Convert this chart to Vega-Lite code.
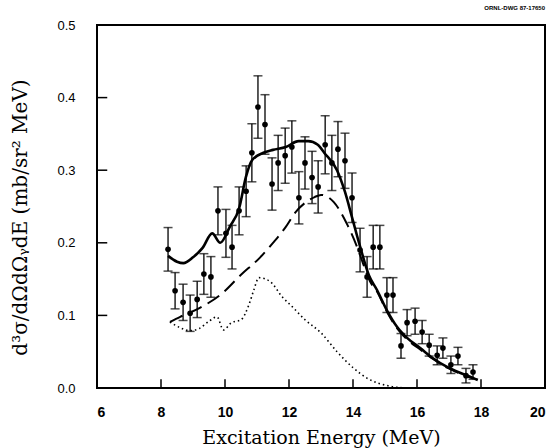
{
  "$schema": "https://vega.github.io/schema/vega-lite/v6.json",
  "width": 448,
  "height": 363,
  "autosize": {"type": "none"},
  "padding": {"left": 97, "top": 25, "right": 11, "bottom": 60},
  "background": "white",
  "config": {
    "view": {"stroke": "black", "strokeWidth": 2},
    "font": "Liberation Sans"
  },
  "title": {"text": "ORNL-DWG 87-17650", "anchor": "end", "fontSize": 6, "fontWeight": "bold", "offset": 8, "font": "Liberation Sans", "color": "black"},
  "datasets": {
    "xticks": [{"E": 8}, {"E": 10}, {"E": 12}, {"E": 14}, {"E": 16}, {"E": 18}],
    "yticks": [{"v": 0.1}, {"v": 0.2}, {"v": 0.3}, {"v": 0.4}],
    "points": [
      {"E": 8.22, "v": 0.191, "err": 0.030},
      {"E": 8.44, "v": 0.134, "err": 0.025},
      {"E": 8.69, "v": 0.118, "err": 0.025},
      {"E": 8.91, "v": 0.103, "err": 0.025},
      {"E": 9.13, "v": 0.122, "err": 0.025},
      {"E": 9.34, "v": 0.157, "err": 0.028},
      {"E": 9.56, "v": 0.153, "err": 0.028},
      {"E": 9.78, "v": 0.244, "err": 0.033},
      {"E": 10.03, "v": 0.213, "err": 0.033},
      {"E": 10.22, "v": 0.194, "err": 0.030},
      {"E": 10.44, "v": 0.244, "err": 0.033},
      {"E": 10.66, "v": 0.271, "err": 0.035},
      {"E": 10.84, "v": 0.324, "err": 0.040},
      {"E": 11.03, "v": 0.387, "err": 0.043},
      {"E": 11.25, "v": 0.363, "err": 0.041},
      {"E": 11.47, "v": 0.281, "err": 0.036},
      {"E": 11.66, "v": 0.310, "err": 0.038},
      {"E": 11.88, "v": 0.320, "err": 0.038},
      {"E": 12.09, "v": 0.332, "err": 0.036},
      {"E": 12.31, "v": 0.262, "err": 0.036},
      {"E": 12.50, "v": 0.310, "err": 0.036},
      {"E": 12.72, "v": 0.290, "err": 0.036},
      {"E": 12.91, "v": 0.277, "err": 0.036},
      {"E": 13.13, "v": 0.335, "err": 0.040},
      {"E": 13.34, "v": 0.310, "err": 0.038},
      {"E": 13.53, "v": 0.329, "err": 0.038},
      {"E": 13.75, "v": 0.313, "err": 0.038},
      {"E": 13.97, "v": 0.262, "err": 0.034},
      {"E": 14.22, "v": 0.190, "err": 0.030},
      {"E": 14.44, "v": 0.153, "err": 0.028},
      {"E": 14.63, "v": 0.194, "err": 0.030},
      {"E": 14.84, "v": 0.194, "err": 0.030},
      {"E": 15.06, "v": 0.128, "err": 0.024},
      {"E": 15.25, "v": 0.128, "err": 0.024},
      {"E": 15.50, "v": 0.058, "err": 0.017},
      {"E": 15.69, "v": 0.090, "err": 0.018},
      {"E": 15.94, "v": 0.092, "err": 0.018},
      {"E": 16.16, "v": 0.077, "err": 0.016},
      {"E": 16.38, "v": 0.059, "err": 0.015},
      {"E": 16.63, "v": 0.045, "err": 0.013},
      {"E": 16.81, "v": 0.055, "err": 0.014},
      {"E": 17.06, "v": 0.032, "err": 0.012},
      {"E": 17.28, "v": 0.044, "err": 0.012},
      {"E": 17.53, "v": 0.017, "err": 0.010},
      {"E": 17.75, "v": 0.022, "err": 0.010}
    ],
    "total": [
      {"E": 8.22, "v": 0.182}, {"E": 8.5, "v": 0.174}, {"E": 8.7, "v": 0.172},
      {"E": 9.0, "v": 0.180}, {"E": 9.3, "v": 0.193}, {"E": 9.6, "v": 0.213},
      {"E": 9.85, "v": 0.200}, {"E": 10.15, "v": 0.222}, {"E": 10.45, "v": 0.249},
      {"E": 10.65, "v": 0.290}, {"E": 10.85, "v": 0.314}, {"E": 11.2, "v": 0.324},
      {"E": 11.5, "v": 0.328}, {"E": 11.9, "v": 0.332}, {"E": 12.3, "v": 0.340},
      {"E": 12.6, "v": 0.340}, {"E": 12.9, "v": 0.335}, {"E": 13.1, "v": 0.324},
      {"E": 13.5, "v": 0.300}, {"E": 13.75, "v": 0.270}, {"E": 13.97, "v": 0.235},
      {"E": 14.22, "v": 0.195}, {"E": 14.5, "v": 0.155}, {"E": 14.75, "v": 0.135},
      {"E": 15.06, "v": 0.107}, {"E": 15.38, "v": 0.084}, {"E": 15.69, "v": 0.069},
      {"E": 16.1, "v": 0.055}, {"E": 16.5, "v": 0.041}, {"E": 16.94, "v": 0.029},
      {"E": 17.34, "v": 0.021}, {"E": 17.75, "v": 0.014}, {"E": 17.9, "v": 0.011}
    ],
    "broad": [
      {"E": 8.28, "v": 0.091}, {"E": 8.6, "v": 0.098}, {"E": 9.2, "v": 0.110},
      {"E": 9.9, "v": 0.130}, {"E": 10.5, "v": 0.156}, {"E": 11.1, "v": 0.180},
      {"E": 11.5, "v": 0.200}, {"E": 11.9, "v": 0.222}, {"E": 12.2, "v": 0.242},
      {"E": 12.5, "v": 0.255}, {"E": 12.8, "v": 0.263}, {"E": 13.0, "v": 0.266},
      {"E": 13.4, "v": 0.256}, {"E": 13.8, "v": 0.227}, {"E": 14.13, "v": 0.194},
      {"E": 14.31, "v": 0.172}, {"E": 14.53, "v": 0.147}, {"E": 14.75, "v": 0.133},
      {"E": 15.06, "v": 0.105}, {"E": 15.38, "v": 0.082}, {"E": 15.69, "v": 0.067},
      {"E": 16.1, "v": 0.053}, {"E": 16.5, "v": 0.040}, {"E": 16.94, "v": 0.028},
      {"E": 17.34, "v": 0.020}, {"E": 17.75, "v": 0.013}
    ],
    "narrow": [
      {"E": 8.28, "v": 0.091}, {"E": 8.6, "v": 0.083}, {"E": 8.9, "v": 0.079},
      {"E": 9.2, "v": 0.082}, {"E": 9.5, "v": 0.092}, {"E": 9.75, "v": 0.098},
      {"E": 9.95, "v": 0.080}, {"E": 10.2, "v": 0.090}, {"E": 10.5, "v": 0.094},
      {"E": 10.75, "v": 0.115}, {"E": 10.9, "v": 0.135}, {"E": 11.06, "v": 0.152},
      {"E": 11.4, "v": 0.147}, {"E": 11.8, "v": 0.125}, {"E": 12.1, "v": 0.112},
      {"E": 12.5, "v": 0.094}, {"E": 13.0, "v": 0.076}, {"E": 13.5, "v": 0.050},
      {"E": 14.0, "v": 0.028}, {"E": 14.5, "v": 0.012}, {"E": 15.1, "v": 0.003},
      {"E": 15.6, "v": 0.0}
    ]
  },
  "layer": [
    {
      "data": {"name": "points"},
      "mark": {"type": "point", "filled": true, "color": "black", "size": 32, "opacity": 1},
      "encoding": {
        "x": {"field": "E", "type": "quantitative", "title": "Excitation Energy (MeV)",
          "scale": {"domain": [6, 20], "nice": false},
          "axis": {"values": [6, 8, 10, 12, 14, 16, 18, 20], "grid": false, "ticks": false,
            "domain": false, "labelPadding": 17, "labelFontSize": 14, "labelColor": "black", "labelFont": "Liberation Sans", "labelFontWeight": "bold",
            "titleFont": "DejaVu Serif", "titleFontSize": 19, "titleFontWeight": "normal", "titleColor": "black", "titlePadding": 9}},
        "y": {"field": "v", "type": "quantitative", "title": "d³σ/dΩdΩᵧdE (mb/sr² MeV)",
          "scale": {"domain": [0, 0.5], "nice": false},
          "axis": {"values": [0, 0.1, 0.2, 0.3, 0.4, 0.5], "format": ".1f", "grid": false, "ticks": false,
            "domain": false, "labelPadding": 22, "labelFontSize": 13, "labelColor": "black", "labelFont": "Liberation Sans",
            "titleFont": "DejaVu Serif", "titleFontSize": 20, "titleFontWeight": "normal", "titleColor": "black", "titlePadding": 26, "titleY": 192}}
      }
    },
    {
      "data": {"name": "xticks"},
      "mark": {"type": "rule", "color": "black", "strokeWidth": 1.5},
      "encoding": {
        "x": {"field": "E", "type": "quantitative", "title": "Excitation Energy (MeV)"},
        "y": {"datum": 0, "type": "quantitative", "title": "d³σ/dΩdΩᵧdE (mb/sr² MeV)"},
        "y2": {"datum": 0.012}
      }
    },
    {
      "data": {"name": "yticks"},
      "mark": {"type": "rule", "color": "black", "strokeWidth": 1.5},
      "encoding": {
        "y": {"field": "v", "type": "quantitative", "title": "d³σ/dΩdΩᵧdE (mb/sr² MeV)"},
        "x": {"datum": 6, "type": "quantitative", "title": "Excitation Energy (MeV)"},
        "x2": {"datum": 6.32}
      }
    },
    {
      "data": {"name": "points"},
      "mark": {"type": "errorbar", "ticks": {"size": 9, "thickness": 1.5, "color": "black"}, "color": "black", "thickness": 1.3},
      "encoding": {
        "x": {"field": "E", "type": "quantitative", "title": "Excitation Energy (MeV)"},
        "y": {"field": "v", "type": "quantitative", "title": "d³σ/dΩdΩᵧdE (mb/sr² MeV)"},
        "yError": {"field": "err"}
      }
    },
    {
      "data": {"name": "total"},
      "mark": {"type": "line", "color": "black", "strokeWidth": 2.6, "interpolate": "monotone"},
      "encoding": {
        "x": {"field": "E", "type": "quantitative", "title": "Excitation Energy (MeV)"},
        "y": {"field": "v", "type": "quantitative", "title": "d³σ/dΩdΩᵧdE (mb/sr² MeV)"}
      }
    },
    {
      "data": {"name": "broad"},
      "mark": {"type": "line", "color": "black", "strokeWidth": 2, "strokeDash": [14, 7], "interpolate": "monotone"},
      "encoding": {
        "x": {"field": "E", "type": "quantitative", "title": "Excitation Energy (MeV)"},
        "y": {"field": "v", "type": "quantitative", "title": "d³σ/dΩdΩᵧdE (mb/sr² MeV)"}
      }
    },
    {
      "data": {"name": "narrow"},
      "mark": {"type": "line", "color": "black", "strokeWidth": 1.6, "strokeDash": [1.5, 3], "interpolate": "monotone"},
      "encoding": {
        "x": {"field": "E", "type": "quantitative", "title": "Excitation Energy (MeV)"},
        "y": {"field": "v", "type": "quantitative", "title": "d³σ/dΩdΩᵧdE (mb/sr² MeV)"}
      }
    }
  ]
}
